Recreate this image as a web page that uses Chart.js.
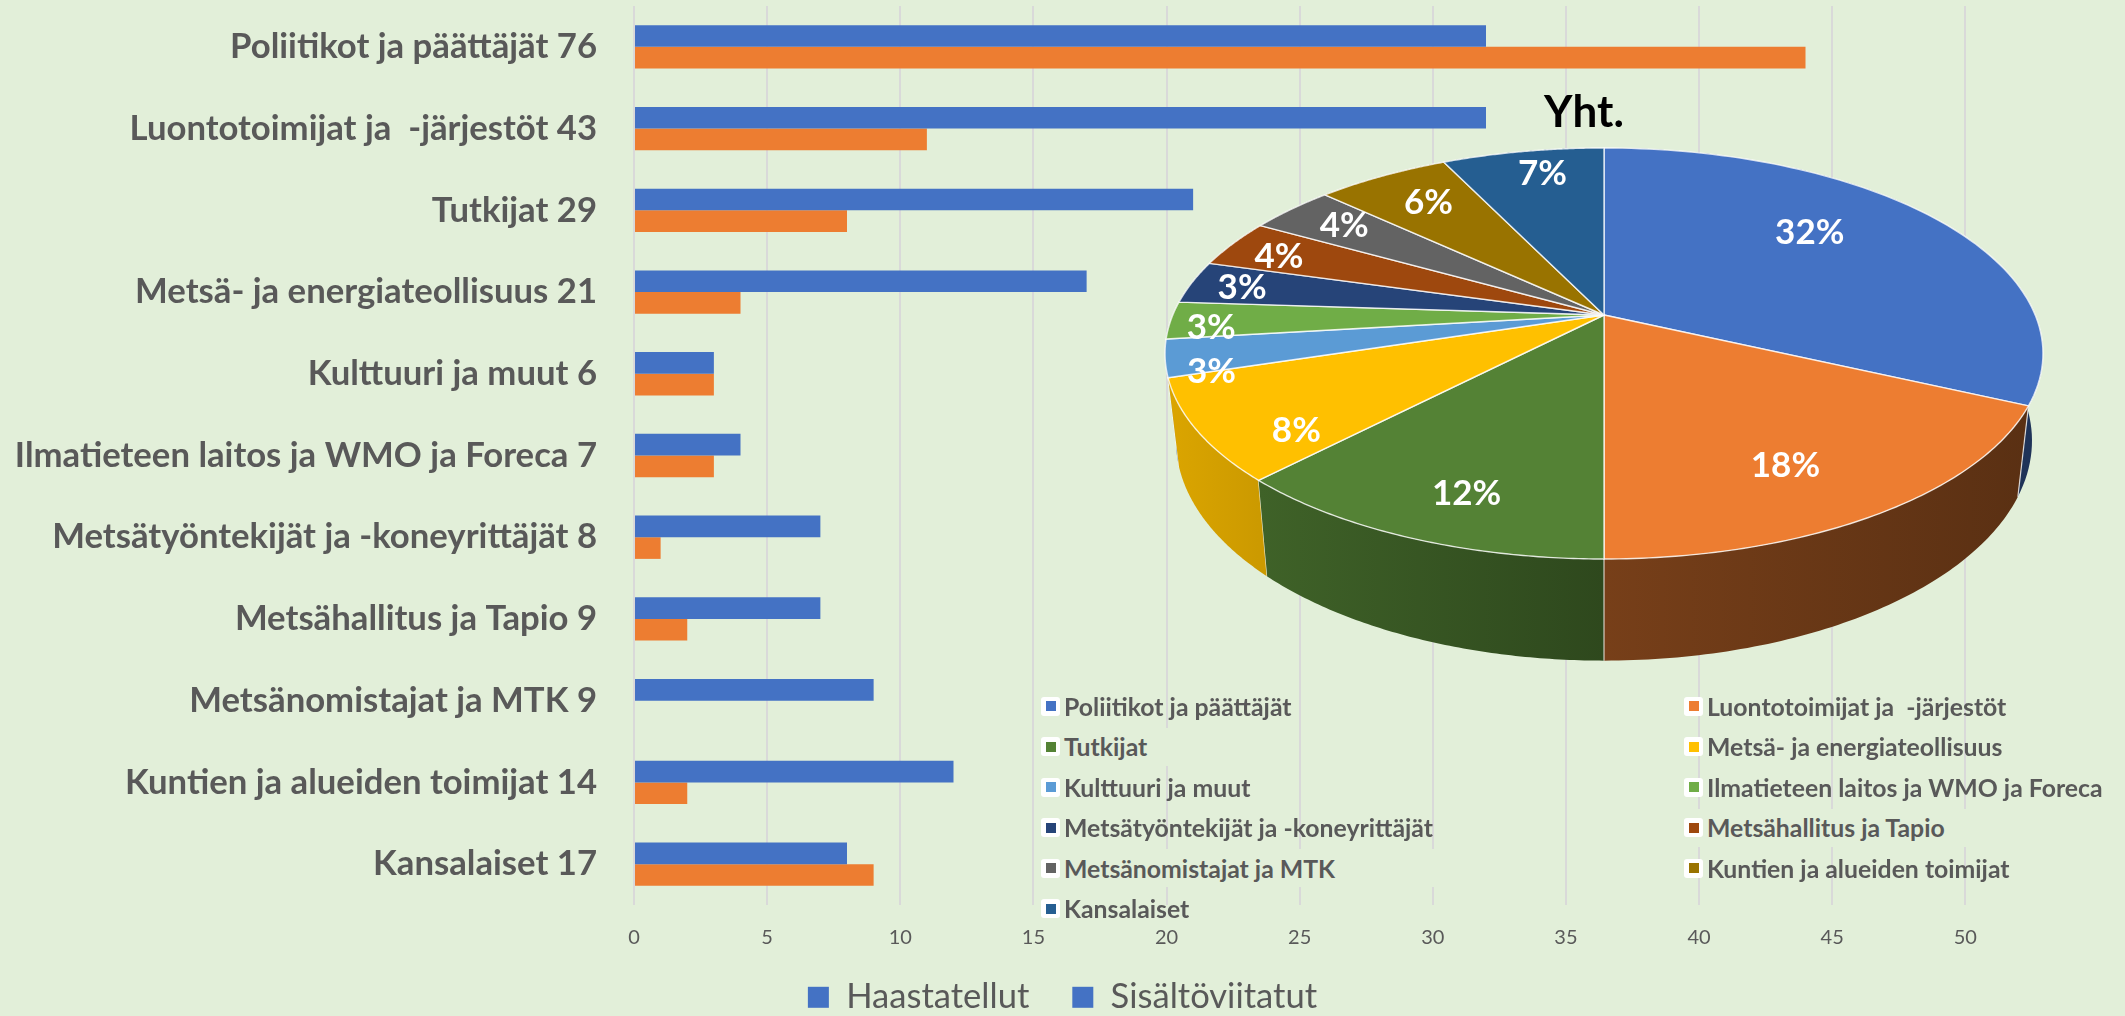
<!DOCTYPE html>
<html lang="en">
<head>
    <meta charset="UTF-8">
    <title>Haastatellut ja sisältöviitatut</title>
    <style>
        html, body { margin: 0; padding: 0; width: 2125px; height: 1016px; overflow: hidden; background: #E2EFD9; }
        canvas { position: absolute; }
        #barChart { left: 0; top: 0; }
        #pieChart { left: 1084px; top: 76px; }
        .item { position: absolute; height: 38px; line-height: 38px; display: flex; align-items: center; white-space: pre;
                font: bold 24.8px Lato, sans-serif; color: #595959; }
        .box { width: 19px; height: 19px; background: #fff; border-radius: 3px; margin-right: 4px; display: flex;
               align-items: center; justify-content: center; flex: none; }
        .box i { display: block; width: 10px; height: 10px; }
    </style>
</head>
<body>

<canvas id="barChart" width="2125" height="1016"></canvas>
<canvas id="pieChart" width="1000" height="600"></canvas>
<div id="pieLegend"></div>

<script src="https://cdn.jsdelivr.net/npm/chart.js@4"></script>
<script>

const categories = ['Poliitikot ja päättäjät', 'Luontotoimijat ja  -järjestöt', 'Tutkijat', 'Metsä- ja energiateollisuus',
    'Kulttuuri ja muut', 'Ilmatieteen laitos ja WMO ja Foreca', 'Metsätyöntekijät ja -koneyrittäjät', 'Metsähallitus ja Tapio',
    'Metsänomistajat ja MTK', 'Kuntien ja alueiden toimijat', 'Kansalaiset'];
const haastatellut = [32, 32, 21, 17, 3, 4, 7, 7, 9, 12, 8];
const sisaltoviitatut = [44, 11, 8, 4, 3, 3, 1, 2, 0, 2, 9];
const totals = [76, 43, 29, 21, 6, 7, 8, 9, 9, 14, 17];
// read off the slice boundaries, the pie does not quite follow the totals above
const pieValues = [76, 43, 29, 19, 7, 7, 8, 9, 9, 14, 17];
const pieLabels = ['32%', '18%', '12%', '8%', '3%', '3%', '3%', '4%', '4%', '6%', '7%'];
const xTicks = [0, 5, 10, 15, 20, 25, 30, 35, 40, 45, 50];

const BLUE = '#4472C4', ORANGE = '#ED7D31', GREY = '#595959', GRID = '#D9D9D9', PAGE = '#E2EFD9';
const pieColors = ['#4472C4', '#ED7D31', '#548235', '#FFC000', '#5B9BD5', '#70AD47', '#264478', '#9E480E', '#636363', '#997300', '#255E91'];

// darkening of each slice's side wall, left and right end
const sideShade = [[.45, .45], [.5, .38], [.75, .55], [.86, .8]];
// Excel put the percent labels by hand, so a nudge from the default spot
const labelNudge = [[-32, -13], [-1, 19], [-9, 32], [-32, 37], [-89, 27], [-90, 9], [-71, -4], [-60, -7], [-34, -13], [-14, -11], [-2, -21]];
// some legend entries have an empty box that hides the grid line behind
const legendMask = { 2: 135, 7: 290, 8: 400 };

// perspective of the pie, in pie canvas pixels
const view = { cx: 520, cy: 239, a: 431.2, b: 198.3, k: 0.1873, shrink: 0.975, stretch: 1.07, drop: 62.5 };

function project(angle, r) {
    const u = Math.cos(angle) * r, v = Math.sin(angle) * r;
    const w = 1 - view.k * v;
    return { x: view.cx + view.a * u / w, y: view.cy + view.b * v / w };
}

function lower(p) {
    // same rim point, on the bottom of the pie (76 = canvas top offset)
    return {
        x: view.cx + (p.x - view.cx) * view.shrink,
        y: (p.y + 76) * view.stretch + view.drop - 76
    };
}

function shade(hex, f) {
    const n = parseInt(hex.slice(1), 16);
    return 'rgb(' + Math.round((n >> 16) * f) + ',' + Math.round(((n >> 8) & 255) * f) + ',' + Math.round((n & 255) * f) + ')';
}

function arcPoints(start, end) {
    const pts = [], steps = 80;
    for (let s = 0; s <= steps; s++) {
        pts.push(project(start + (end - start) * s / steps, 1));
    }
    return pts;
}

const pie3d = {
    id: 'pie3d',
    beforeDatasetsDraw(chart) {
        const ctx = chart.ctx;
        const arcs = chart.getDatasetMeta(0).data;
        const order = arcs.map((a, i) => i).sort((p, q) =>
            Math.sin((arcs[p].startAngle + arcs[p].endAngle) / 2) - Math.sin((arcs[q].startAngle + arcs[q].endAngle) / 2));

        // side walls, back to front
        order.forEach(i => {
            const el = arcs[i];
            const top = arcPoints(el.startAngle, el.endAngle);
            const bottom = top.map(lower).reverse();
            const xs = top.map(p => p.x);
            const f = sideShade[i] || [.6, .6];
            const grad = ctx.createLinearGradient(Math.min(...xs), 0, Math.max(...xs), 0);
            grad.addColorStop(0, shade(pieColors[i], f[0]));
            grad.addColorStop(1, shade(pieColors[i], f[1]));
            ctx.beginPath();
            top.concat(bottom).forEach((p, n) => n ? ctx.lineTo(p.x, p.y) : ctx.moveTo(p.x, p.y));
            ctx.closePath();
            ctx.fillStyle = grad;
            ctx.fill();
            if (Math.sin(el.startAngle) > 0) {
                const a = top[0], b = lower(a);
                ctx.beginPath();
                ctx.moveTo(a.x, a.y);
                ctx.lineTo(b.x, b.y);
                ctx.strokeStyle = 'rgba(255,255,255,.75)';
                ctx.lineWidth = 1.2;
                ctx.stroke();
            }
        });

        // top face
        arcs.forEach((el, i) => {
            const apex = project(0, 0);
            ctx.beginPath();
            ctx.moveTo(apex.x, apex.y);
            arcPoints(el.startAngle, el.endAngle).forEach(p => ctx.lineTo(p.x, p.y));
            ctx.closePath();
            ctx.fillStyle = pieColors[i];
            ctx.fill();
            ctx.strokeStyle = 'rgba(255,255,255,.8)';
            ctx.lineWidth = 1.4;
            ctx.lineJoin = 'round';
            ctx.stroke();
        });

        // percent labels
        ctx.font = 'bold 35px Lato, sans-serif';
        ctx.fillStyle = '#fff';
        ctx.textAlign = 'center';
        ctx.textBaseline = 'middle';
        arcs.forEach((el, i) => {
            const p = project((el.startAngle + el.endAngle) / 2, 0.7);
            ctx.fillText(pieLabels[i], p.x + labelNudge[i][0], p.y + labelNudge[i][1]);
        });
        return false;
    }
};

new Chart(document.getElementById('barChart'), {
    type: 'bar',
    data: {
        labels: categories.map((c, i) => c + ' ' + totals[i]),
        datasets: [
            { label: 'Haastatellut', data: haastatellut, backgroundColor: BLUE },
            { label: 'Sisältöviitatut', data: sisaltoviitatut, backgroundColor: ORANGE }
        ]
    },
    options: {
        indexAxis: 'y',
        responsive: false,
        animation: false,
        layout: { padding: { top: 6 } },
        categoryPercentage: 0.53,
        barPercentage: 1,
        scales: {
            x: {
                min: 0,
                max: 56,
                afterBuildTicks: s => { s.ticks = xTicks.map(v => ({ value: v })); },
                afterFit: s => { s.height = 63; s.paddingLeft = 0; s.paddingRight = 0; },
                border: { display: false },
                grid: { color: GRID, lineWidth: 2, drawTicks: false },
                ticks: { padding: 21, color: GREY, font: { family: 'Lato', size: 20 }, maxRotation: 0 }
            },
            y: {
                afterFit: s => { s.width = 634; s.paddingTop = 0; s.paddingBottom = 0; },
                border: { display: false },
                grid: { display: false, drawTicks: false },
                ticks: { padding: 37, color: GREY, autoSkip: false, font: { family: 'Lato', size: 34.7, weight: 'bold' } }
            }
        },
        plugins: {
            tooltip: { enabled: false },
            legend: {
                position: 'bottom',
                labels: {
                    color: GREY,
                    boxWidth: 21,
                    boxHeight: 21,
                    padding: 43,
                    font: { family: 'Lato', size: 34.6 },
                    // both swatches are blue in the original
                    generateLabels: c => c.data.datasets.map((d, i) => ({
                        text: d.label, fillStyle: BLUE, strokeStyle: BLUE, lineWidth: 0, datasetIndex: i, fontColor: GREY
                    }))
                }
            }
        }
    },
    plugins: [{
        id: 'legendSpot',
        beforeLayout(chart) {
            // wide gap between the two entries but the legend stays low
            const legend = chart.legend, fit = legend.fit;
            legend.fit = function () { fit.call(this); this.height = 48; };
        },
        afterLayout(chart) {
            chart.legend.top -= 31;
        }
    }]
});

new Chart(document.getElementById('pieChart'), {
    type: 'pie',
    data: {
        labels: categories,
        datasets: [{ data: pieValues, backgroundColor: pieColors }]
    },
    options: {
        responsive: false,
        animation: false,
        plugins: {
            legend: { display: false },
            tooltip: { enabled: false },
            title: {
                display: true,
                text: 'Yht.',
                color: '#000',
                padding: { top: 10, bottom: 0 },
                font: { family: 'Lato', size: 44, weight: 'bold' }
            }
        }
    },
    plugins: [pie3d]
});

// pie legend, two columns
const legendBox = document.getElementById('pieLegend');
categories.forEach((c, i) => {
    const row = Math.floor(i / 2), col = i % 2;
    const item = document.createElement('div');
    item.className = 'item';
    item.style.left = (col ? 1684 : 1041) + 'px';
    item.style.top = (687 + row * 40.5) + 'px';
    if (legendMask[i]) {
        item.style.width = legendMask[i] + 'px';
        item.style.background = PAGE;
    }
    item.innerHTML = '<span class="box"><i style="background:' + pieColors[i] + '"></i></span>';
    item.appendChild(document.createTextNode(c));
    legendBox.appendChild(item);
});

</script>
</body>
</html>
